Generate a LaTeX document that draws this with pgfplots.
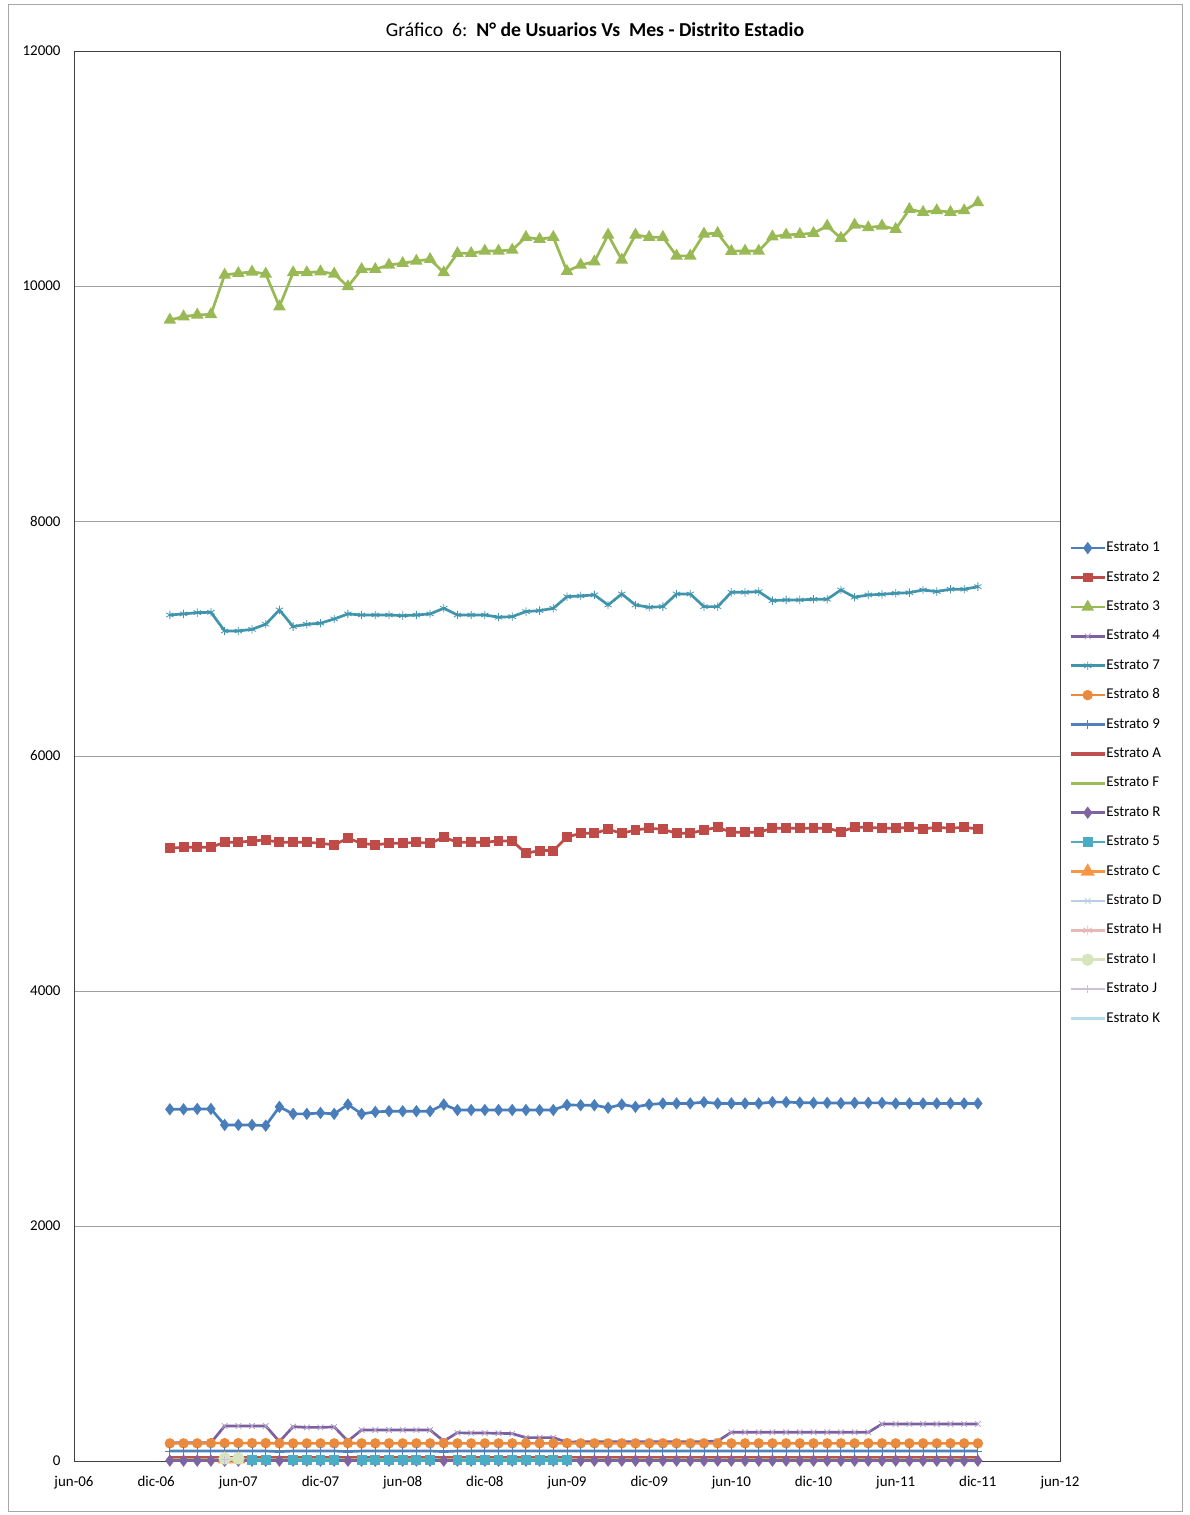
\documentclass[border=0pt]{standalone}
\usepackage{pgfplots}
\pgfplotsset{compat=1.18}
\usepackage{pgfplotstable}
\usepackage{fontspec}
\setmainfont{Carlito}

\definecolor{c1}{HTML}{4A7EBB}
\definecolor{c2}{HTML}{BE4B48}
\definecolor{c3}{HTML}{98B954}
\definecolor{c4}{HTML}{7D60A0}
\definecolor{c7}{HTML}{4094AC}
\definecolor{c8}{HTML}{E98A3C}
\definecolor{c9}{HTML}{4F81BD}
\definecolor{cA}{HTML}{C0504D}
\definecolor{cF}{HTML}{9BBB59}
\definecolor{cR}{HTML}{8064A2}
\definecolor{c5}{HTML}{4BACC6}
\definecolor{cC}{HTML}{F79646}
\definecolor{cD}{HTML}{B9CDE5}
\definecolor{cH}{HTML}{E6B9B8}
\definecolor{cI}{HTML}{D7E4BD}
\definecolor{cJ}{HTML}{CCC1DA}
\definecolor{cK}{HTML}{B7DEE8}

% month index: 0 = jun-06, 7 = ene-07, 66 = dic-11
\pgfplotstableread{
x  e1   e2   e3    e4  e7   e8  e9 eA eF eR e5  eC  eD  eH  eI  eJ  eK
7  2993 5215 9711  155 7200 150 85 25 12 3  nan nan nan nan nan nan nan
8  2993 5223 9739  155 7209 150 85 25 12 3  nan nan nan nan nan nan nan
9  2996 5223 9754  155 7220 150 85 25 12 3  nan nan nan nan nan nan nan
10 2996 5223 9758  155 7223 152 85 25 12 3  nan nan nan nan nan nan nan
11 2860 5266 10094 298 7064 152 85 25 12 3  nan 15  10  18  22  10  10
12 2860 5266 10108 298 7064 152 85 25 12 3  nan 15  nan 18  22  nan 10
13 2860 5277 10120 298 7078 152 85 25 12 3  6   nan nan nan nan nan nan
14 2854 5285 10103 298 7121 152 85 25 12 3  6   nan nan nan nan nan nan
15 3014 5266 9824  165 7243 150 80 25 12 3  nan nan nan nan nan nan nan
16 2954 5266 10114 292 7101 150 85 25 12 3  6   nan nan nan nan nan nan
17 2954 5266 10114 286 7121 150 85 25 12 3  6   nan nan nan nan nan nan
18 2962 5257 10122 286 7130 150 85 25 12 3  6   nan nan nan nan nan nan
19 2954 5243 10103 290 7166 150 85 25 12 3  6   nan nan nan nan nan nan
20 3034 5300 9995  170 7209 152 80 25 12 3  nan nan nan nan nan nan nan
21 2954 5257 10142 264 7200 150 85 25 12 3  6   nan nan nan nan nan nan
22 2971 5243 10142 264 7200 150 85 25 12 3  6   nan nan nan nan nan nan
23 2977 5257 10179 264 7200 150 85 25 12 3  6   nan nan nan nan nan nan
24 2977 5257 10193 264 7194 150 85 25 12 3  6   nan nan nan nan nan nan
25 2977 5266 10213 264 7200 150 85 25 12 3  6   nan nan nan nan nan nan
26 2977 5257 10227 264 7209 150 85 25 12 3  6   nan nan nan nan nan nan
27 3034 5308 10114 170 7257 152 80 25 12 3  nan nan nan nan nan nan nan
28 2987 5266 10278 240 7200 150 85 25 12 3  6   nan nan nan nan nan nan
29 2987 5266 10278 238 7200 150 85 25 12 3  6   nan nan nan nan nan nan
30 2987 5266 10298 238 7200 150 85 25 12 3  6   nan nan nan nan nan nan
31 2987 5277 10298 236 7181 150 85 25 12 3  6   nan nan nan nan nan nan
32 2987 5277 10307 233 7186 150 85 25 12 3  6   nan nan nan nan nan nan
33 2987 5172 10415 199 7229 150 85 25 12 3  6   nan nan nan nan nan nan
34 2987 5195 10398 199 7237 150 85 25 12 3  6   nan nan nan nan nan nan
35 2987 5195 10415 199 7257 150 85 25 12 3  6   nan nan nan nan nan nan
36 3030 5310 10125 160 7356 152 85 25 12 3  6   nan nan nan nan nan nan
37 3028 5342 10179 165 7362 150 85 25 12 3  nan nan nan nan nan nan nan
38 3028 5342 10207 165 7371 150 85 25 12 3  nan nan nan nan nan nan nan
39 3006 5376 10435 165 7285 150 85 25 12 3  nan nan nan nan nan nan nan
40 3034 5342 10222 165 7379 150 85 25 12 3  nan nan nan nan nan nan nan
41 3014 5370 10435 165 7285 150 85 25 12 3  nan nan nan nan nan nan nan
42 3034 5385 10415 165 7266 150 85 25 12 3  nan nan nan nan nan nan nan
43 3043 5376 10415 165 7271 150 85 25 12 3  nan nan nan nan nan nan nan
44 3043 5342 10256 165 7379 150 85 25 12 3  nan nan nan nan nan nan nan
45 3043 5342 10256 165 7379 150 85 25 12 3  nan nan nan nan nan nan nan
46 3054 5370 10443 165 7271 150 85 25 12 3  nan nan nan nan nan nan nan
47 3043 5393 10449 170 7271 150 85 25 12 3  nan nan nan nan nan nan nan
48 3043 5351 10296 244 7393 150 85 25 12 3  nan nan nan nan nan nan nan
49 3043 5351 10298 244 7393 150 85 25 12 3  nan nan nan nan nan nan nan
50 3043 5351 10298 244 7399 150 85 25 12 3  nan nan nan nan nan nan nan
51 3054 5385 10420 244 7322 150 85 25 12 3  nan nan nan nan nan nan nan
52 3054 5385 10435 244 7328 150 85 25 12 3  nan nan nan nan nan nan nan
53 3050 5385 10440 244 7328 150 85 25 12 3  nan nan nan nan nan nan nan
54 3048 5385 10449 244 7334 150 85 25 12 3  nan nan nan nan nan nan nan
55 3048 5385 10511 244 7334 150 85 25 12 3  nan nan nan nan nan nan nan
56 3045 5356 10407 244 7413 150 85 25 12 3  nan nan nan nan nan nan nan
57 3048 5393 10520 244 7351 150 85 25 12 3  nan nan nan nan nan nan nan
58 3048 5393 10497 244 7371 150 85 25 12 3  nan nan nan nan nan nan nan
59 3048 5385 10511 315 7376 150 85 25 12 3  nan nan nan nan nan nan nan
60 3043 5385 10483 315 7385 150 85 25 12 3  nan nan nan nan nan nan nan
61 3043 5393 10653 315 7390 150 85 25 12 3  nan nan nan nan nan nan nan
62 3043 5379 10628 315 7413 150 85 25 12 3  nan nan nan nan nan nan nan
63 3043 5393 10642 315 7399 150 85 25 12 3  nan nan nan nan nan nan nan
64 3043 5385 10628 315 7419 150 85 25 12 3  nan nan nan nan nan nan nan
65 3043 5393 10642 315 7419 150 85 25 12 3  nan nan nan nan nan nan nan
66 3043 5379 10710 315 7441 150 85 25 12 3  nan nan nan nan nan nan nan
}\datos

\begin{document}
\begin{tikzpicture}[x=1bp,y=1bp]
\begin{axis}[
  scale only axis, width=986bp, height=1410bp,
  xmin=0, xmax=72, ymin=0, ymax=12000,
  xtick={0,6,...,72},
  xticklabels={jun-06,dic-06,jun-07,dic-07,jun-08,dic-08,jun-09,dic-09,jun-10,dic-10,jun-11,dic-11,jun-12},
  ytick={0,2000,...,12000},
  scaled y ticks=false,
  ymajorgrids, grid style={gray!75, line width=0.8bp},
  axis line style={gray!50!black, line width=0.9bp},
  major tick length=0pt,
  ticklabel style={font=\fontsize{15}{16}\selectfont},
  /pgf/number format/fixed,
  /pgf/number format/set thousands separator={},
  /pgf/number format/assume math mode=true,
  xticklabel style={yshift=-12bp},
  yticklabel style={xshift=-10bp},
  unbounded coords=jump,
  every axis plot/.append style={line width=2.7bp},
  legend style={at={(1.006,0.6543)}, anchor=north west, draw=none, fill=none,
    font=\fontsize{15}{16}\selectfont, row sep=14.4bp,
    nodes={inner sep=0pt, text height=11bp, text depth=4bp}},
  legend cell align=left,
  legend image code/.code={\draw[mark repeat=2,mark phase=2,#1] plot coordinates {(0bp,0bp) (17bp,0bp) (34bp,0bp)};},
]
\coordinate (llc) at (rel axis cs:0,0);
\addplot[c1, mark=diamond*, mark size=4bp] table[x=x,y=e1] {\datos};
\addlegendentry{Estrato 1}
\addplot[c2, mark=square*, mark size=3.6bp] table[x=x,y=e2] {\datos};
\addlegendentry{Estrato 2}
\addplot[c3, mark=triangle*, mark size=4.6bp] table[x=x,y=e3] {\datos};
\addlegendentry{Estrato 3}
\addplot[c4, mark=x, mark size=4bp, mark options={line width=0.8bp, draw=c4!60}] table[x=x,y=e4] {\datos};
\addlegendentry{Estrato 4}
\addplot[c7, mark=asterisk, mark size=4.2bp, mark options={line width=0.8bp}] table[x=x,y=e7] {\datos};
\addlegendentry{Estrato 7}
\addplot[c8, mark=*, mark size=3.8bp] table[x=x,y=e8] {\datos};
\addlegendentry{Estrato 8}
\addplot[c9, mark=+, mark size=4.5bp, mark options={line width=0.9bp}] table[x=x,y=e9] {\datos};
\addlegendentry{Estrato 9}
\addplot[cA, line width=3.2bp] table[x=x,y=eA] {\datos};
\addlegendentry{Estrato A}
\addplot[cF] table[x=x,y=eF] {\datos};
\addlegendentry{Estrato F}
\addplot[cR, mark=diamond*, mark size=4bp] table[x=x,y=eR] {\datos};
\addlegendentry{Estrato R}
\addplot[c5, mark=square*, mark size=3.6bp] table[x=x,y=e5] {\datos};
\addlegendentry{Estrato 5}
\addplot[cC, line width=3.2bp, mark=triangle*, mark size=5bp] table[x=x,y=eC] {\datos};
\addlegendentry{Estrato C}
\addplot[cD, mark=x, mark size=4bp, mark options={line width=0.8bp}] table[x=x,y=eD] {\datos};
\addlegendentry{Estrato D}
\addplot[cH, line width=3.2bp, mark=asterisk, mark size=5bp, mark options={line width=0.8bp}] table[x=x,y=eH] {\datos};
\addlegendentry{Estrato H}
\addplot[cI, line width=3.2bp, mark=*, mark size=4.5bp] table[x=x,y=eI] {\datos};
\addlegendentry{Estrato I}
\addplot[cJ, mark=+, mark size=4bp, mark options={line width=0.8bp}] table[x=x,y=eJ] {\datos};
\addlegendentry{Estrato J}
\addplot[cK] table[x=x,y=eK] {\datos};
\addlegendentry{Estrato K}
\end{axis}
% page frame and title, placed relative to the plot box corner
\pgfresetboundingbox
\path[use as bounding box] ([shift={(-74,-54)}]llc) rectangle ([shift={(1115,1461)}]llc);
\draw[gray!70, line width=0.8bp] ([shift={(-65.5,-50.5)}]llc) rectangle ([shift={(1108.5,1456.5)}]llc);
\node[font=\fontsize{19.8}{22}\selectfont] at ([shift={(521,1431)}]llc)
  {Gráfico\ \ 6:\ \ \textbf{N° de Usuarios Vs\ \ Mes - Distrito Estadio}};
\end{tikzpicture}
\end{document}
